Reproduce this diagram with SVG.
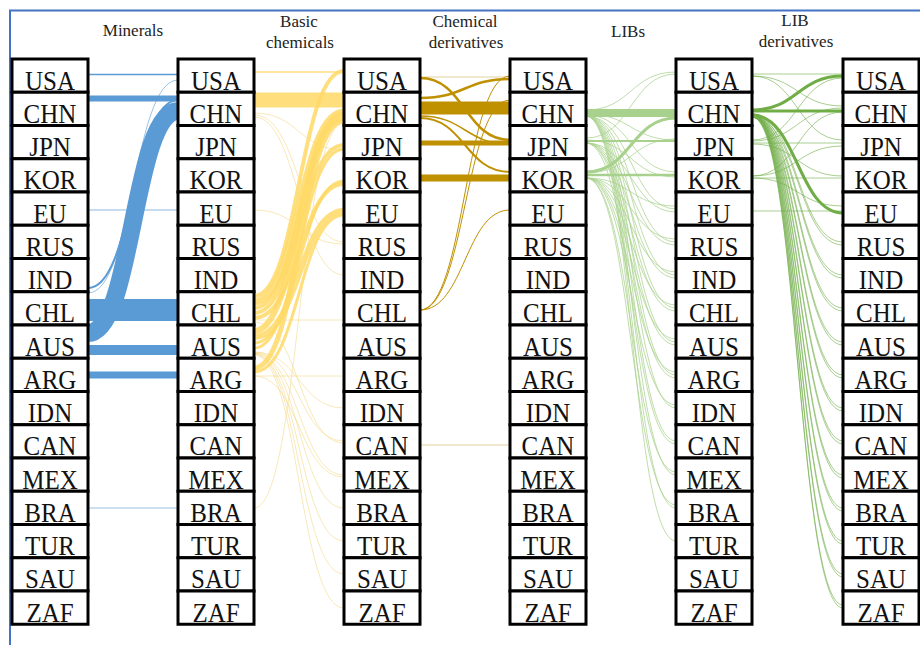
<svg xmlns="http://www.w3.org/2000/svg" width="920" height="645" viewBox="0 0 920 645">
<style>
.n rect{fill:#fff;stroke:#000;stroke-width:3}
.t{font-family:'Liberation Serif','Times New Roman',serif;font-size:25px;text-anchor:middle;fill:#111}
.h{font-family:'Liberation Serif','Times New Roman',serif;font-size:17px;text-anchor:middle;fill:#222}
#links path{fill:none}
.b{stroke:#5B9BD5}
.y{stroke:#FFD966;stroke-opacity:.85}
.yf{stroke:#F3D98A;stroke-opacity:.6;stroke-width:1}
.o{stroke:#BF9000}
.of{stroke:#C9A840;stroke-opacity:.5;stroke-width:1}
.g{stroke:#A9D18E}
.gf{stroke:#A9D18E;stroke-opacity:.75;stroke-width:1}
.d{stroke:#70AD47}
.df{stroke:#70AD47;stroke-opacity:.6;stroke-width:1}
</style>
<rect x="0" y="0" width="920" height="645" fill="#fff"/>
<path d="M10 645 V10.5 H920" fill="none" stroke="#4472C4" stroke-width="2"/>
<g id="headers">
<text class="h" x="133" y="36">Minerals</text>
<text class="h" x="299" y="27">Basic</text>
<text class="h" x="300" y="47.5">chemicals</text>
<text class="h" x="465" y="27">Chemical</text>
<text class="h" x="466" y="47.5">derivatives</text>
<text class="h" x="628" y="36.5">LIBs</text>
<text class="h" x="795" y="25.5">LIB</text>
<text class="h" x="796" y="46.5">derivatives</text>
</g>
<g id="links">
<!-- Minerals -> Basic chemicals -->
<path class="b" stroke-width="1.5" d="M88 74.5 H178"/>
<path class="b" stroke-width="6" d="M88 98.5 H178"/>
<path class="b" stroke-width="2" d="M88 288 C133 288 133 100 178 100"/>
<path class="b" stroke-width="1" stroke-opacity=".6" d="M88 293 C133 293 133 80 178 80"/>
<path class="b" stroke-width="18" d="M88 333 C133 333 133 111 178 111"/>
<path class="b" stroke-width="1.2" stroke-opacity=".7" d="M88 210 H178"/>
<path class="b" stroke-width="22" d="M88 310 H178"/>
<path class="b" stroke-width="10" d="M88 350 H178"/>
<path class="b" stroke-width="7" d="M88 375 H178"/>
<path class="b" stroke-width="1.2" stroke-opacity=".6" d="M88 508 H178"/>
<!-- Basic chemicals -> Chemical derivatives -->
<path class="yf" d="M254 115 C299 115 299 242 344 242"/>
<path class="yf" d="M254 117 C299 117 299 275 344 275"/>
<path class="yf" d="M254 113 C299 113 299 150 344 150"/>
<path class="yf" d="M254 210 C299 210 299 244 344 244"/>
<path class="yf" d="M254 508 C299 508 299 123 344 123"/>
<path class="yf" d="M254 320 H344"/>
<path class="yf" d="M254 376 H344"/>
<path class="yf" d="M254 352 C299 352 299 408 344 408"/>
<path class="yf" d="M254 352 C299 352 299 441 344 441"/>
<path class="yf" d="M254 353 C299 353 299 475 344 475"/>
<path class="yf" d="M254 353 C299 353 299 508 344 508"/>
<path class="yf" d="M254 354 C299 354 299 541 344 541"/>
<path class="yf" d="M254 354 C299 354 299 574 344 574"/>
<path class="yf" d="M254 355 C299 355 299 608 344 608"/>
<path class="yf" d="M254 322 C299 322 299 443 344 443"/>
<path class="yf" d="M254 376 C299 376 299 477 344 477"/>
<path class="y" stroke-width="1.5" d="M254 72 H344"/>
<path class="y" stroke-width="15" d="M254 100 H344"/>
<path class="y" stroke-width="4" d="M254 296 C299 296 299 71 344 71"/>
<path class="y" stroke-width="7" d="M254 302 C299 302 299 112 344 112"/>
<path class="y" stroke-width="4" d="M254 308 C299 308 299 119 344 119"/>
<path class="y" stroke-width="4" d="M254 313 C299 313 299 145 344 145"/>
<path class="y" stroke-width="4" d="M254 318 C299 318 299 184 344 184"/>
<path class="y" stroke-width="6" d="M254 331 C299 331 299 115 344 115"/>
<path class="y" stroke-width="6" d="M254 337 C299 337 299 211 344 211"/>
<path class="y" stroke-width="3" d="M254 343 C299 343 299 181 344 181"/>
<path class="y" stroke-width="3" d="M254 348 C299 348 299 149 344 149"/>
<path class="y" stroke-width="5" d="M254 368 C299 368 299 121 344 121"/>
<path class="y" stroke-width="3" d="M254 372 C299 372 299 215 344 215"/>
<!-- Chemical derivatives -> LIBs -->
<path class="of" d="M420 77 H510"/>
<path class="of" d="M420 445 H510"/>
<path class="o" stroke-width="1" d="M420 310 C465 310 465 76 510 76"/>
<path class="o" stroke-width="1" d="M420 310 C465 310 465 100 510 100"/>
<path class="o" stroke-width="1" d="M420 310 C465 310 465 210 510 210"/>
<path class="o" stroke-width="2.5" d="M420 78 C465 78 465 140 510 140"/>
<path class="o" stroke-width="2.5" d="M420 98 C465 98 465 79 510 79"/>
<path class="o" stroke-width="13" d="M420 108 H510"/>
<path class="o" stroke-width="1.5" d="M420 116 C465 116 465 144 510 144"/>
<path class="o" stroke-width="2" d="M420 118 C465 118 465 172 510 172"/>
<path class="o" stroke-width="5" d="M420 143 H510"/>
<path class="o" stroke-width="7" d="M420 178 H510"/>
<!-- LIBs -> LIB derivatives -->
<path class="gf" d="M586 116 C631 116 631 209 676 209"/>
<path class="gf" d="M586 116 C631 116 631 242 676 242"/>
<path class="gf" d="M586 116 C631 116 631 275 676 275"/>
<path class="gf" d="M586 116 C631 116 631 308 676 308"/>
<path class="gf" d="M586 116 C631 116 631 342 676 342"/>
<path class="gf" d="M586 116 C631 116 631 375 676 375"/>
<path class="gf" d="M586 116 C631 116 631 408 676 408"/>
<path class="gf" d="M586 116 C631 116 631 441 676 441"/>
<path class="gf" d="M586 116 C631 116 631 475 676 475"/>
<path class="gf" d="M586 116 C631 116 631 508 676 508"/>
<path class="gf" d="M586 116 C631 116 631 541 676 541"/>
<path class="gf" d="M586 143 C631 143 631 212 676 212"/>
<path class="gf" d="M586 143 C631 143 631 245 676 245"/>
<path class="gf" d="M586 143 C631 143 631 278 676 278"/>
<path class="gf" d="M586 143 C631 143 631 311 676 311"/>
<path class="gf" d="M586 143 C631 143 631 345 676 345"/>
<path class="gf" d="M586 143 C631 143 631 378 676 378"/>
<path class="gf" d="M586 143 C631 143 631 444 676 444"/>
<path class="gf" d="M586 178 C631 178 631 206 676 206"/>
<path class="gf" d="M586 178 C631 178 631 239 676 239"/>
<path class="gf" d="M586 178 C631 178 631 272 676 272"/>
<path class="gf" d="M586 178 C631 178 631 305 676 305"/>
<path class="gf" d="M586 178 C631 178 631 339 676 339"/>
<path class="gf" d="M586 178 C631 178 631 372 676 372"/>
<path class="gf" d="M586 178 C631 178 631 405 676 405"/>
<path class="gf" d="M586 178 C631 178 631 472 676 472"/>
<path class="gf" d="M586 178 C631 178 631 505 676 505"/>
<path class="gf" d="M586 114 C631 114 631 140 676 140"/>
<path class="gf" d="M586 115 C631 115 631 172 676 172"/>
<path class="gf" d="M586 140 C631 140 631 177 676 177"/>
<path class="gf" d="M586 173 C631 173 631 139 676 139"/>
<path class="gf" stroke-width="1.2" d="M586 110 C631 110 631 72 676 72"/>
<path class="gf" d="M586 138 C631 138 631 74 676 74"/>
<path class="g" stroke-width="8" d="M586 113 H676"/>
<path class="g" stroke-width="2" d="M586 141 H676"/>
<path class="g" stroke-width="2.5" d="M586 175 H676"/>
<path class="g" stroke-width="3" d="M586 172 C631 172 631 118 676 118"/>
<!-- LIB derivatives -> final -->
<path class="df" d="M752 74 H843"/>
<path class="df" d="M752 143 H843"/>
<path class="df" stroke="#9AA88E" d="M752 178 H843"/>
<path class="df" d="M752 211 H843"/>
<path class="df" d="M752 76 C797.5 76 797.5 106 843 106"/>
<path class="df" d="M752 76 C797.5 76 797.5 140 843 140"/>
<path class="df" d="M752 140 C797.5 140 797.5 78 843 78"/>
<path class="df" d="M752 141 C797.5 141 797.5 108 843 108"/>
<path class="df" d="M752 176 C797.5 176 797.5 112 843 112"/>
<path class="df" d="M752 176 C797.5 176 797.5 146 843 146"/>
<path class="df" d="M752 178 C797.5 178 797.5 206 843 206"/>
<path class="df" d="M752 144 C797.5 144 797.5 176 843 176"/>
<path class="df" d="M752 114 C797.5 114 797.5 242 843 242"/>
<path class="df" d="M752 114 C797.5 114 797.5 275 843 275"/>
<path class="df" d="M752 114 C797.5 114 797.5 308 843 308"/>
<path class="df" d="M752 114 C797.5 114 797.5 342 843 342"/>
<path class="df" d="M752 114 C797.5 114 797.5 375 843 375"/>
<path class="df" d="M752 114 C797.5 114 797.5 408 843 408"/>
<path class="df" d="M752 114 C797.5 114 797.5 441 843 441"/>
<path class="df" d="M752 114 C797.5 114 797.5 475 843 475"/>
<path class="df" d="M752 114 C797.5 114 797.5 508 843 508"/>
<path class="df" d="M752 114 C797.5 114 797.5 541 843 541"/>
<path class="df" d="M752 114 C797.5 114 797.5 574 843 574"/>
<path class="df" d="M752 114 C797.5 114 797.5 608 843 608"/>
<path class="df" d="M752 117 C797.5 117 797.5 245 843 245"/>
<path class="df" d="M752 117 C797.5 117 797.5 278 843 278"/>
<path class="df" d="M752 117 C797.5 117 797.5 311 843 311"/>
<path class="df" d="M752 117 C797.5 117 797.5 345 843 345"/>
<path class="df" d="M752 117 C797.5 117 797.5 378 843 378"/>
<path class="df" d="M752 117 C797.5 117 797.5 411 843 411"/>
<path class="df" d="M752 117 C797.5 117 797.5 444 843 444"/>
<path class="df" d="M752 117 C797.5 117 797.5 478 843 478"/>
<path class="df" d="M752 117 C797.5 117 797.5 511 843 511"/>
<path class="df" d="M752 117 C797.5 117 797.5 544 843 544"/>
<path class="df" d="M752 117 C797.5 117 797.5 577 843 577"/>
<path class="df" d="M752 117 C797.5 117 797.5 605 843 605"/>
<path class="d" stroke-width="3" d="M752 110 C797.5 110 797.5 76 843 76"/>
<path class="d" stroke-width="3" d="M752 111 H843"/>
<path class="d" stroke-width="3" d="M752 115 C797.5 115 797.5 213 843 213"/>
</g>
<g id="c1">
<g id="c1-USA" class="n"><rect x="12" y="59" width="76" height="33.25"/><text class="t" transform="matrix(1 0 0 1.12 50 89.5)">USA</text></g>
<g id="c1-CHN" class="n"><rect x="12" y="92.25" width="76" height="33.25"/><text class="t" transform="matrix(1 0 0 1.12 50 122.75)">CHN</text></g>
<g id="c1-JPN" class="n"><rect x="12" y="125.5" width="76" height="33.25"/><text class="t" transform="matrix(1 0 0 1.12 50 156)">JPN</text></g>
<g id="c1-KOR" class="n"><rect x="12" y="158.75" width="76" height="33.25"/><text class="t" transform="matrix(1 0 0 1.12 50 189.25)">KOR</text></g>
<g id="c1-EU" class="n"><rect x="12" y="192" width="76" height="33.25"/><text class="t" transform="matrix(1 0 0 1.12 50 222.5)">EU</text></g>
<g id="c1-RUS" class="n"><rect x="12" y="225.25" width="76" height="33.25"/><text class="t" transform="matrix(1 0 0 1.12 50 255.75)">RUS</text></g>
<g id="c1-IND" class="n"><rect x="12" y="258.5" width="76" height="33.25"/><text class="t" transform="matrix(1 0 0 1.12 50 289)">IND</text></g>
<g id="c1-CHL" class="n"><rect x="12" y="291.75" width="76" height="33.25"/><text class="t" transform="matrix(1 0 0 1.12 50 322.25)">CHL</text></g>
<g id="c1-AUS" class="n"><rect x="12" y="325" width="76" height="33.25"/><text class="t" transform="matrix(1 0 0 1.12 50 355.5)">AUS</text></g>
<g id="c1-ARG" class="n"><rect x="12" y="358.25" width="76" height="33.25"/><text class="t" transform="matrix(1 0 0 1.12 50 388.75)">ARG</text></g>
<g id="c1-IDN" class="n"><rect x="12" y="391.5" width="76" height="33.25"/><text class="t" transform="matrix(1 0 0 1.12 50 422)">IDN</text></g>
<g id="c1-CAN" class="n"><rect x="12" y="424.75" width="76" height="33.25"/><text class="t" transform="matrix(1 0 0 1.12 50 455.25)">CAN</text></g>
<g id="c1-MEX" class="n"><rect x="12" y="458" width="76" height="33.25"/><text class="t" transform="matrix(1 0 0 1.12 50 488.5)">MEX</text></g>
<g id="c1-BRA" class="n"><rect x="12" y="491.25" width="76" height="33.25"/><text class="t" transform="matrix(1 0 0 1.12 50 521.75)">BRA</text></g>
<g id="c1-TUR" class="n"><rect x="12" y="524.5" width="76" height="33.25"/><text class="t" transform="matrix(1 0 0 1.12 50 555)">TUR</text></g>
<g id="c1-SAU" class="n"><rect x="12" y="557.75" width="76" height="33.25"/><text class="t" transform="matrix(1 0 0 1.12 50 588.25)">SAU</text></g>
<g id="c1-ZAF" class="n"><rect x="12" y="591" width="76" height="33.25"/><text class="t" transform="matrix(1 0 0 1.12 50 621.5)">ZAF</text></g>
</g>
<g id="c2">
<g id="c2-USA" class="n"><rect x="178" y="59" width="76" height="33.25"/><text class="t" transform="matrix(1 0 0 1.12 216 89.5)">USA</text></g>
<g id="c2-CHN" class="n"><rect x="178" y="92.25" width="76" height="33.25"/><text class="t" transform="matrix(1 0 0 1.12 216 122.75)">CHN</text></g>
<g id="c2-JPN" class="n"><rect x="178" y="125.5" width="76" height="33.25"/><text class="t" transform="matrix(1 0 0 1.12 216 156)">JPN</text></g>
<g id="c2-KOR" class="n"><rect x="178" y="158.75" width="76" height="33.25"/><text class="t" transform="matrix(1 0 0 1.12 216 189.25)">KOR</text></g>
<g id="c2-EU" class="n"><rect x="178" y="192" width="76" height="33.25"/><text class="t" transform="matrix(1 0 0 1.12 216 222.5)">EU</text></g>
<g id="c2-RUS" class="n"><rect x="178" y="225.25" width="76" height="33.25"/><text class="t" transform="matrix(1 0 0 1.12 216 255.75)">RUS</text></g>
<g id="c2-IND" class="n"><rect x="178" y="258.5" width="76" height="33.25"/><text class="t" transform="matrix(1 0 0 1.12 216 289)">IND</text></g>
<g id="c2-CHL" class="n"><rect x="178" y="291.75" width="76" height="33.25"/><text class="t" transform="matrix(1 0 0 1.12 216 322.25)">CHL</text></g>
<g id="c2-AUS" class="n"><rect x="178" y="325" width="76" height="33.25"/><text class="t" transform="matrix(1 0 0 1.12 216 355.5)">AUS</text></g>
<g id="c2-ARG" class="n"><rect x="178" y="358.25" width="76" height="33.25"/><text class="t" transform="matrix(1 0 0 1.12 216 388.75)">ARG</text></g>
<g id="c2-IDN" class="n"><rect x="178" y="391.5" width="76" height="33.25"/><text class="t" transform="matrix(1 0 0 1.12 216 422)">IDN</text></g>
<g id="c2-CAN" class="n"><rect x="178" y="424.75" width="76" height="33.25"/><text class="t" transform="matrix(1 0 0 1.12 216 455.25)">CAN</text></g>
<g id="c2-MEX" class="n"><rect x="178" y="458" width="76" height="33.25"/><text class="t" transform="matrix(1 0 0 1.12 216 488.5)">MEX</text></g>
<g id="c2-BRA" class="n"><rect x="178" y="491.25" width="76" height="33.25"/><text class="t" transform="matrix(1 0 0 1.12 216 521.75)">BRA</text></g>
<g id="c2-TUR" class="n"><rect x="178" y="524.5" width="76" height="33.25"/><text class="t" transform="matrix(1 0 0 1.12 216 555)">TUR</text></g>
<g id="c2-SAU" class="n"><rect x="178" y="557.75" width="76" height="33.25"/><text class="t" transform="matrix(1 0 0 1.12 216 588.25)">SAU</text></g>
<g id="c2-ZAF" class="n"><rect x="178" y="591" width="76" height="33.25"/><text class="t" transform="matrix(1 0 0 1.12 216 621.5)">ZAF</text></g>
</g>
<g id="c3">
<g id="c3-USA" class="n"><rect x="344" y="59" width="76" height="33.25"/><text class="t" transform="matrix(1 0 0 1.12 382 89.5)">USA</text></g>
<g id="c3-CHN" class="n"><rect x="344" y="92.25" width="76" height="33.25"/><text class="t" transform="matrix(1 0 0 1.12 382 122.75)">CHN</text></g>
<g id="c3-JPN" class="n"><rect x="344" y="125.5" width="76" height="33.25"/><text class="t" transform="matrix(1 0 0 1.12 382 156)">JPN</text></g>
<g id="c3-KOR" class="n"><rect x="344" y="158.75" width="76" height="33.25"/><text class="t" transform="matrix(1 0 0 1.12 382 189.25)">KOR</text></g>
<g id="c3-EU" class="n"><rect x="344" y="192" width="76" height="33.25"/><text class="t" transform="matrix(1 0 0 1.12 382 222.5)">EU</text></g>
<g id="c3-RUS" class="n"><rect x="344" y="225.25" width="76" height="33.25"/><text class="t" transform="matrix(1 0 0 1.12 382 255.75)">RUS</text></g>
<g id="c3-IND" class="n"><rect x="344" y="258.5" width="76" height="33.25"/><text class="t" transform="matrix(1 0 0 1.12 382 289)">IND</text></g>
<g id="c3-CHL" class="n"><rect x="344" y="291.75" width="76" height="33.25"/><text class="t" transform="matrix(1 0 0 1.12 382 322.25)">CHL</text></g>
<g id="c3-AUS" class="n"><rect x="344" y="325" width="76" height="33.25"/><text class="t" transform="matrix(1 0 0 1.12 382 355.5)">AUS</text></g>
<g id="c3-ARG" class="n"><rect x="344" y="358.25" width="76" height="33.25"/><text class="t" transform="matrix(1 0 0 1.12 382 388.75)">ARG</text></g>
<g id="c3-IDN" class="n"><rect x="344" y="391.5" width="76" height="33.25"/><text class="t" transform="matrix(1 0 0 1.12 382 422)">IDN</text></g>
<g id="c3-CAN" class="n"><rect x="344" y="424.75" width="76" height="33.25"/><text class="t" transform="matrix(1 0 0 1.12 382 455.25)">CAN</text></g>
<g id="c3-MEX" class="n"><rect x="344" y="458" width="76" height="33.25"/><text class="t" transform="matrix(1 0 0 1.12 382 488.5)">MEX</text></g>
<g id="c3-BRA" class="n"><rect x="344" y="491.25" width="76" height="33.25"/><text class="t" transform="matrix(1 0 0 1.12 382 521.75)">BRA</text></g>
<g id="c3-TUR" class="n"><rect x="344" y="524.5" width="76" height="33.25"/><text class="t" transform="matrix(1 0 0 1.12 382 555)">TUR</text></g>
<g id="c3-SAU" class="n"><rect x="344" y="557.75" width="76" height="33.25"/><text class="t" transform="matrix(1 0 0 1.12 382 588.25)">SAU</text></g>
<g id="c3-ZAF" class="n"><rect x="344" y="591" width="76" height="33.25"/><text class="t" transform="matrix(1 0 0 1.12 382 621.5)">ZAF</text></g>
</g>
<g id="c4">
<g id="c4-USA" class="n"><rect x="510" y="59" width="76" height="33.25"/><text class="t" transform="matrix(1 0 0 1.12 548 89.5)">USA</text></g>
<g id="c4-CHN" class="n"><rect x="510" y="92.25" width="76" height="33.25"/><text class="t" transform="matrix(1 0 0 1.12 548 122.75)">CHN</text></g>
<g id="c4-JPN" class="n"><rect x="510" y="125.5" width="76" height="33.25"/><text class="t" transform="matrix(1 0 0 1.12 548 156)">JPN</text></g>
<g id="c4-KOR" class="n"><rect x="510" y="158.75" width="76" height="33.25"/><text class="t" transform="matrix(1 0 0 1.12 548 189.25)">KOR</text></g>
<g id="c4-EU" class="n"><rect x="510" y="192" width="76" height="33.25"/><text class="t" transform="matrix(1 0 0 1.12 548 222.5)">EU</text></g>
<g id="c4-RUS" class="n"><rect x="510" y="225.25" width="76" height="33.25"/><text class="t" transform="matrix(1 0 0 1.12 548 255.75)">RUS</text></g>
<g id="c4-IND" class="n"><rect x="510" y="258.5" width="76" height="33.25"/><text class="t" transform="matrix(1 0 0 1.12 548 289)">IND</text></g>
<g id="c4-CHL" class="n"><rect x="510" y="291.75" width="76" height="33.25"/><text class="t" transform="matrix(1 0 0 1.12 548 322.25)">CHL</text></g>
<g id="c4-AUS" class="n"><rect x="510" y="325" width="76" height="33.25"/><text class="t" transform="matrix(1 0 0 1.12 548 355.5)">AUS</text></g>
<g id="c4-ARG" class="n"><rect x="510" y="358.25" width="76" height="33.25"/><text class="t" transform="matrix(1 0 0 1.12 548 388.75)">ARG</text></g>
<g id="c4-IDN" class="n"><rect x="510" y="391.5" width="76" height="33.25"/><text class="t" transform="matrix(1 0 0 1.12 548 422)">IDN</text></g>
<g id="c4-CAN" class="n"><rect x="510" y="424.75" width="76" height="33.25"/><text class="t" transform="matrix(1 0 0 1.12 548 455.25)">CAN</text></g>
<g id="c4-MEX" class="n"><rect x="510" y="458" width="76" height="33.25"/><text class="t" transform="matrix(1 0 0 1.12 548 488.5)">MEX</text></g>
<g id="c4-BRA" class="n"><rect x="510" y="491.25" width="76" height="33.25"/><text class="t" transform="matrix(1 0 0 1.12 548 521.75)">BRA</text></g>
<g id="c4-TUR" class="n"><rect x="510" y="524.5" width="76" height="33.25"/><text class="t" transform="matrix(1 0 0 1.12 548 555)">TUR</text></g>
<g id="c4-SAU" class="n"><rect x="510" y="557.75" width="76" height="33.25"/><text class="t" transform="matrix(1 0 0 1.12 548 588.25)">SAU</text></g>
<g id="c4-ZAF" class="n"><rect x="510" y="591" width="76" height="33.25"/><text class="t" transform="matrix(1 0 0 1.12 548 621.5)">ZAF</text></g>
</g>
<g id="c5">
<g id="c5-USA" class="n"><rect x="676" y="59" width="76" height="33.25"/><text class="t" transform="matrix(1 0 0 1.12 714 89.5)">USA</text></g>
<g id="c5-CHN" class="n"><rect x="676" y="92.25" width="76" height="33.25"/><text class="t" transform="matrix(1 0 0 1.12 714 122.75)">CHN</text></g>
<g id="c5-JPN" class="n"><rect x="676" y="125.5" width="76" height="33.25"/><text class="t" transform="matrix(1 0 0 1.12 714 156)">JPN</text></g>
<g id="c5-KOR" class="n"><rect x="676" y="158.75" width="76" height="33.25"/><text class="t" transform="matrix(1 0 0 1.12 714 189.25)">KOR</text></g>
<g id="c5-EU" class="n"><rect x="676" y="192" width="76" height="33.25"/><text class="t" transform="matrix(1 0 0 1.12 714 222.5)">EU</text></g>
<g id="c5-RUS" class="n"><rect x="676" y="225.25" width="76" height="33.25"/><text class="t" transform="matrix(1 0 0 1.12 714 255.75)">RUS</text></g>
<g id="c5-IND" class="n"><rect x="676" y="258.5" width="76" height="33.25"/><text class="t" transform="matrix(1 0 0 1.12 714 289)">IND</text></g>
<g id="c5-CHL" class="n"><rect x="676" y="291.75" width="76" height="33.25"/><text class="t" transform="matrix(1 0 0 1.12 714 322.25)">CHL</text></g>
<g id="c5-AUS" class="n"><rect x="676" y="325" width="76" height="33.25"/><text class="t" transform="matrix(1 0 0 1.12 714 355.5)">AUS</text></g>
<g id="c5-ARG" class="n"><rect x="676" y="358.25" width="76" height="33.25"/><text class="t" transform="matrix(1 0 0 1.12 714 388.75)">ARG</text></g>
<g id="c5-IDN" class="n"><rect x="676" y="391.5" width="76" height="33.25"/><text class="t" transform="matrix(1 0 0 1.12 714 422)">IDN</text></g>
<g id="c5-CAN" class="n"><rect x="676" y="424.75" width="76" height="33.25"/><text class="t" transform="matrix(1 0 0 1.12 714 455.25)">CAN</text></g>
<g id="c5-MEX" class="n"><rect x="676" y="458" width="76" height="33.25"/><text class="t" transform="matrix(1 0 0 1.12 714 488.5)">MEX</text></g>
<g id="c5-BRA" class="n"><rect x="676" y="491.25" width="76" height="33.25"/><text class="t" transform="matrix(1 0 0 1.12 714 521.75)">BRA</text></g>
<g id="c5-TUR" class="n"><rect x="676" y="524.5" width="76" height="33.25"/><text class="t" transform="matrix(1 0 0 1.12 714 555)">TUR</text></g>
<g id="c5-SAU" class="n"><rect x="676" y="557.75" width="76" height="33.25"/><text class="t" transform="matrix(1 0 0 1.12 714 588.25)">SAU</text></g>
<g id="c5-ZAF" class="n"><rect x="676" y="591" width="76" height="33.25"/><text class="t" transform="matrix(1 0 0 1.12 714 621.5)">ZAF</text></g>
</g>
<g id="c6">
<g id="c6-USA" class="n"><rect x="843" y="59" width="76" height="33.25"/><text class="t" transform="matrix(1 0 0 1.12 881 89.5)">USA</text></g>
<g id="c6-CHN" class="n"><rect x="843" y="92.25" width="76" height="33.25"/><text class="t" transform="matrix(1 0 0 1.12 881 122.75)">CHN</text></g>
<g id="c6-JPN" class="n"><rect x="843" y="125.5" width="76" height="33.25"/><text class="t" transform="matrix(1 0 0 1.12 881 156)">JPN</text></g>
<g id="c6-KOR" class="n"><rect x="843" y="158.75" width="76" height="33.25"/><text class="t" transform="matrix(1 0 0 1.12 881 189.25)">KOR</text></g>
<g id="c6-EU" class="n"><rect x="843" y="192" width="76" height="33.25"/><text class="t" transform="matrix(1 0 0 1.12 881 222.5)">EU</text></g>
<g id="c6-RUS" class="n"><rect x="843" y="225.25" width="76" height="33.25"/><text class="t" transform="matrix(1 0 0 1.12 881 255.75)">RUS</text></g>
<g id="c6-IND" class="n"><rect x="843" y="258.5" width="76" height="33.25"/><text class="t" transform="matrix(1 0 0 1.12 881 289)">IND</text></g>
<g id="c6-CHL" class="n"><rect x="843" y="291.75" width="76" height="33.25"/><text class="t" transform="matrix(1 0 0 1.12 881 322.25)">CHL</text></g>
<g id="c6-AUS" class="n"><rect x="843" y="325" width="76" height="33.25"/><text class="t" transform="matrix(1 0 0 1.12 881 355.5)">AUS</text></g>
<g id="c6-ARG" class="n"><rect x="843" y="358.25" width="76" height="33.25"/><text class="t" transform="matrix(1 0 0 1.12 881 388.75)">ARG</text></g>
<g id="c6-IDN" class="n"><rect x="843" y="391.5" width="76" height="33.25"/><text class="t" transform="matrix(1 0 0 1.12 881 422)">IDN</text></g>
<g id="c6-CAN" class="n"><rect x="843" y="424.75" width="76" height="33.25"/><text class="t" transform="matrix(1 0 0 1.12 881 455.25)">CAN</text></g>
<g id="c6-MEX" class="n"><rect x="843" y="458" width="76" height="33.25"/><text class="t" transform="matrix(1 0 0 1.12 881 488.5)">MEX</text></g>
<g id="c6-BRA" class="n"><rect x="843" y="491.25" width="76" height="33.25"/><text class="t" transform="matrix(1 0 0 1.12 881 521.75)">BRA</text></g>
<g id="c6-TUR" class="n"><rect x="843" y="524.5" width="76" height="33.25"/><text class="t" transform="matrix(1 0 0 1.12 881 555)">TUR</text></g>
<g id="c6-SAU" class="n"><rect x="843" y="557.75" width="76" height="33.25"/><text class="t" transform="matrix(1 0 0 1.12 881 588.25)">SAU</text></g>
<g id="c6-ZAF" class="n"><rect x="843" y="591" width="76" height="33.25"/><text class="t" transform="matrix(1 0 0 1.12 881 621.5)">ZAF</text></g>
</g>
</svg>
